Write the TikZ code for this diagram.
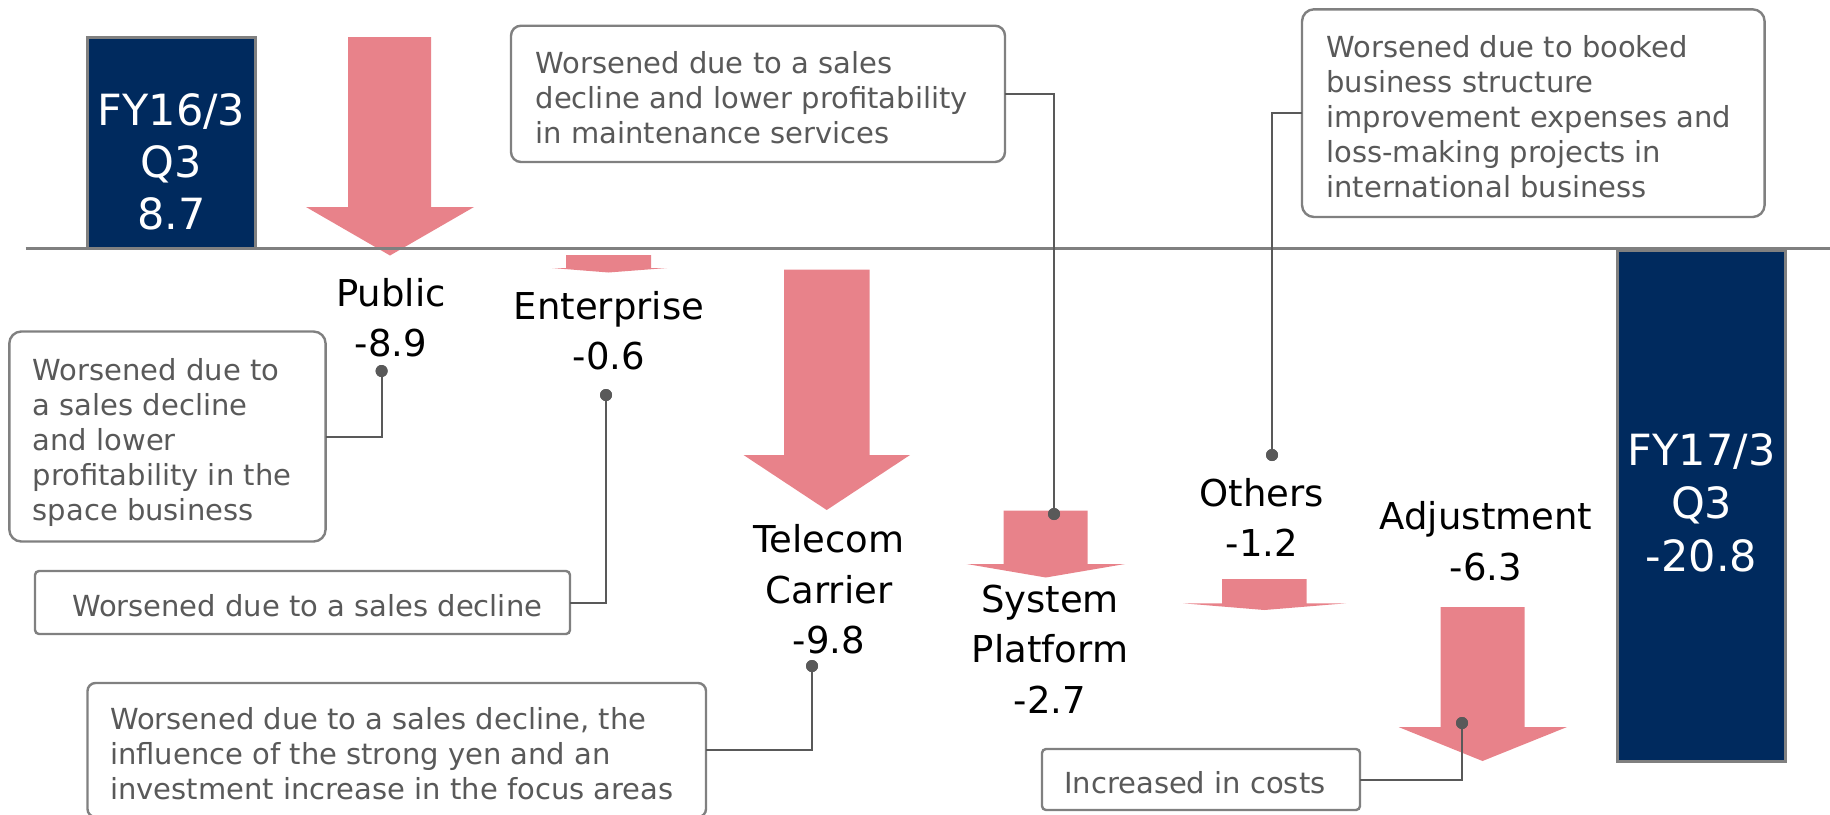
\documentclass[tikz,border=0pt]{standalone}
\usepackage{fontspec}
\setmainfont{DejaVu Sans}
\definecolor{navy}{RGB}{0,42,94}
\definecolor{salmon}{RGB}{232,130,138}
\definecolor{notegray}{RGB}{89,89,89}
\definecolor{rulegray}{RGB}{128,128,128}
\tikzset{
  pinkarrow/.style={fill=salmon, draw=none},
  axisline/.style={draw=rulegray, line width=1.5pt},
  fybox/.style={rectangle, fill=navy, draw=rulegray, line width=1.25pt, inner sep=0pt, outer sep=0pt},
  notebox/.style={rectangle, draw=rulegray, line width=1.2pt, fill=white, inner sep=0pt, outer sep=0pt},
  leader/.style={draw=notegray, line width=1pt},
  pindot/.style={circle, fill=notegray, draw=none, inner sep=0pt, minimum size=6pt},
  lbl/.style={font=\fontsize{18.5pt}{22pt}\selectfont, text=black, inner sep=0pt, anchor=base},
  fytext/.style={font=\fontsize{21.5pt}{26pt}\selectfont, text=white, inner sep=0pt, anchor=base},
  notetext/.style={font=\fontsize{14.5pt}{17pt}\selectfont, text=notegray, inner sep=0pt, anchor=base west}
}
\begin{document}
\begin{tikzpicture}[x=0.5pt, y=-0.5pt]
\useasboundingbox (0,0) rectangle (1830,814);

% segment arrows
\fill[pinkarrow] (348,37) -- (431,37) -- (431,207) -- (474,207) -- (390,255.5) -- (306,207) -- (348,207) -- cycle;
\fill[pinkarrow] (566,255) -- (651,255) -- (651,268) -- (667,268) -- (608.5,272.5) -- (552,268) -- (566,268) -- cycle;
\fill[pinkarrow] (784,269.6) -- (869.5,269.6) -- (869.5,455) -- (910,455) -- (826.7,510) -- (743.5,455) -- (784,455) -- cycle;
\fill[pinkarrow] (1003.5,510.5) -- (1087.7,510.5) -- (1087.7,564) -- (1125,564) -- (1045.8,577.5) -- (966.7,564) -- (1003.5,564) -- cycle;
\fill[pinkarrow] (1222,579) -- (1306.7,579) -- (1306.7,603.3) -- (1346,603.3) -- (1264.4,610) -- (1183,603.3) -- (1222,603.3) -- cycle;
\fill[pinkarrow] (1440.5,607) -- (1524.5,607) -- (1524.5,727) -- (1567,727) -- (1482.5,761) -- (1398.5,727) -- (1440.5,727) -- cycle;

% totals
\node[fybox, minimum width=84.05pt, minimum height=105.65pt] (fy16) at (171.55,142.95) {};
\node[fybox, minimum width=84.05pt, minimum height=255.25pt] (fy17) at (1701.65,506.25) {};

% zero line
\coordinate (axisL) at (25.7,248.6);
\coordinate (axisR) at (1830,248.6);
\draw[axisline] (axisL) -- (axisR);

% callout boxes
\node[notebox, rounded corners=6pt, minimum width=158.15pt, minimum height=105pt] (cPub) at (167.45,436.5) {};
\node[notebox, rounded corners=2pt, minimum width=267.5pt, minimum height=31.5pt] (cEnt) at (302.5,602.5) {};
\node[notebox, rounded corners=4pt, minimum width=309.25pt, minimum height=67pt] (cTel) at (396.75,750) {};
\node[notebox, rounded corners=5pt, minimum width=247pt, minimum height=68.15pt] (cMaint) at (758,93.85) {};
\node[notebox, rounded corners=6pt, minimum width=231.3pt, minimum height=103.85pt] (cBook) at (1533.3,113.15) {};
\node[notebox, rounded corners=2pt, minimum width=159pt, minimum height=30.5pt] (cInc) at (1201,779.5) {};

% pins
\node[pindot] (dotPub) at (381.6,371) {};
\node[pindot] (dotEnt) at (606,395) {};
\node[pindot] (dotTel) at (812,666) {};
\node[pindot] (dotSys) at (1054,514) {};
\node[pindot] (dotOth) at (1272,455) {};
\node[pindot] (dotAdj) at (1462,723) {};

% leaders
\draw[leader] (cPub.east) -| (dotPub.center);
\draw[leader] (cEnt.east) -| (dotEnt.center);
\draw[leader] (cTel.east) -| (dotTel.center);
\draw[leader] (cMaint.east) -| (dotSys.center);
\draw[leader] (cBook.west) -| (dotOth.center);
\draw[leader] (cInc.east) -| (dotAdj.center);
\node[pindot] at (dotPub) {};
\node[pindot] at (dotEnt) {};
\node[pindot] at (dotTel) {};
\node[pindot] at (dotSys) {};
\node[pindot] at (dotOth) {};
\node[pindot] at (dotAdj) {};

% total labels
\node[fytext] (fy16a) at (171.5,125) {FY16/3};
\node[fytext] (fy16b) at (171.5,177) {Q3};
\node[fytext] (fy16c) at (171.5,229.5) {8.7};
\node[fytext] (fy17a) at (1701.6,465.4) {FY17/3};
\node[fytext] (fy17b) at (1701.6,518.6) {Q3};
\node[fytext] (fy17c) at (1701.6,571.9) {-20.8};

% segment labels
\node[lbl] (pubA) at (391,306.6) {Public};
\node[lbl] (pubB) at (391,356.6) {-8.9};
\node[lbl] (entA) at (609,319) {Enterprise};
\node[lbl] (entB) at (609,369) {-0.6};
\node[lbl] (telA) at (829,552.5) {Telecom};
\node[lbl] (telB) at (829,603.4) {Carrier};
\node[lbl] (telC) at (829,653) {-9.8};
\node[lbl] (sysA) at (1050,612.6) {System};
\node[lbl] (sysB) at (1050,662.8) {Platform};
\node[lbl] (sysC) at (1050,713) {-2.7};
\node[lbl] (othA) at (1262,506.6) {Others};
\node[lbl] (othB) at (1262,556.8) {-1.2};
\node[lbl] (adjA) at (1486,529.8) {Adjustment};
\node[lbl] (adjB) at (1486,580) {-6.3};

% callout texts
\node[notetext] (tPub1) at (32.4,380.5) {Worsened due to};
\node[notetext] (tPub2) at (32.4,415.6) {a sales decline};
\node[notetext] (tPub3) at (32.4,450.3) {and lower};
\node[notetext] (tPub4) at (32.4,485.4) {profitability in the};
\node[notetext] (tPub5) at (32.4,520) {space business};

\node[notetext] (tEnt1) at (71.6,616.5) {Worsened due to a sales decline};

\node[notetext] (tTel1) at (109.8,729.6) {Worsened due to a sales decline, the};
\node[notetext] (tTel2) at (109.8,764.7) {influence of the strong yen and an};
\node[notetext] (tTel3) at (109.8,799.4) {investment increase in the focus areas};

\node[notetext] (tMnt1) at (535.3,73.3) {Worsened due to a sales};
\node[notetext] (tMnt2) at (535.3,108.3) {decline and lower profitability};
\node[notetext] (tMnt3) at (535.3,143.3) {in maintenance services};

\node[notetext] (tBk1) at (1326,57) {Worsened due to booked};
\node[notetext] (tBk2) at (1326,92) {business structure};
\node[notetext] (tBk3) at (1326,127) {improvement expenses and};
\node[notetext] (tBk4) at (1326,162) {loss-making projects in};
\node[notetext] (tBk5) at (1326,197) {international business};

\node[notetext] (tInc1) at (1063.8,793.5) {Increased in costs};
\end{tikzpicture}
\end{document}
